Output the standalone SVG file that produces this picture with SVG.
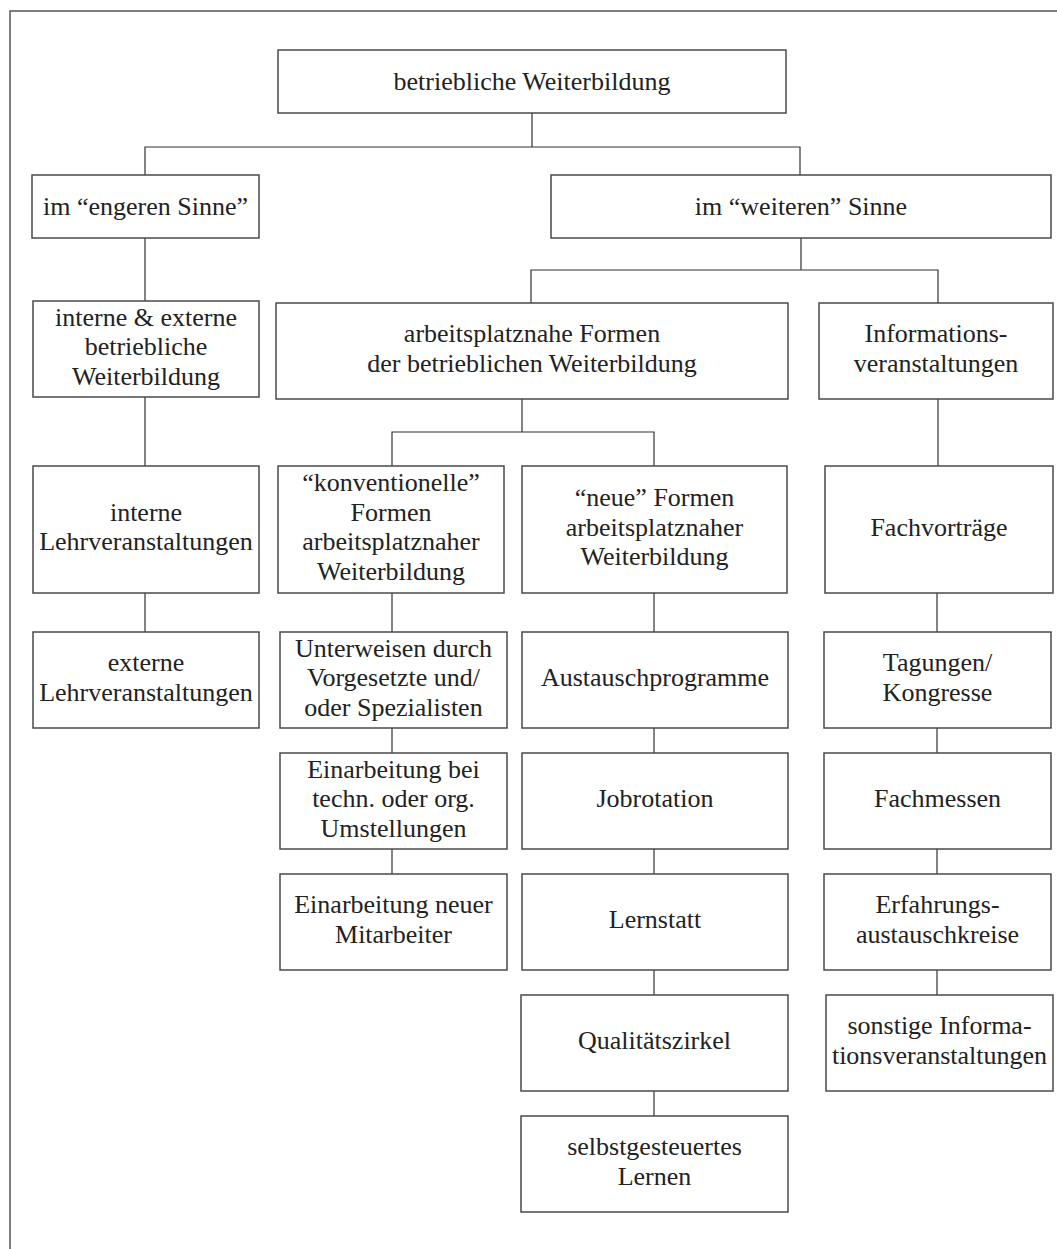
<svg xmlns="http://www.w3.org/2000/svg" width="1057" height="1249" viewBox="0 0 1057 1249">
<style>
.box{fill:#fff;stroke:#4a4a4a;stroke-width:1.5}
.t{font-family:"Liberation Serif","Times New Roman",serif;font-size:26px;fill:#222;text-anchor:middle}
.c{fill:none;stroke:#333;stroke-width:1.2}
.frame{fill:none;stroke:#555;stroke-width:1.5}
</style>
<rect width="1057" height="1249" fill="#fff"/>
<path class="frame" d="M10,1249 V11 H1057"/>
<g id="connectors">
<path class="c" d="M532,113 V147 M145,175 V147 H800 V175"/>
<path class="c" d="M145,238 V301 M145,397 V466 M145,593 V632"/>
<path class="c" d="M801,238 V270 M531,303 V270 H938 V303"/>
<path class="c" d="M522,399 V432 M392,466 V432 H654 V466"/>
<path class="c" d="M938,399 V466 M937,593 V632 M937,728 V753 M937,849 V874 M937,970 V995"/>
<path class="c" d="M392,593 V632 M392,728 V753 M392,849 V874"/>
<path class="c" d="M654,593 V632 M654,728 V753 M654,849 V874 M654,970 V995 M654,1091 V1116"/>
</g>
<g id="n-root"><rect class="box" x="278" y="50" width="508" height="63"/><text class="t" x="532" y="89.5">betriebliche Weiterbildung</text></g>
<g id="n-engeren"><rect class="box" x="32" y="175" width="227" height="63"/><text class="t" x="145.5" y="215">im “engeren Sinne”</text></g>
<g id="n-weiteren"><rect class="box" x="551" y="175" width="500" height="63"/><text class="t" x="801" y="215">im “weiteren” Sinne</text></g>
<g id="n-interne-externe"><rect class="box" x="33" y="301" width="226" height="96"/><text class="t" x="146" y="325.5">interne &amp; externe</text><text class="t" x="146" y="355">betriebliche</text><text class="t" x="146" y="384.5">Weiterbildung</text></g>
<g id="n-arbeitsplatznahe"><rect class="box" x="276" y="303" width="512" height="96"/><text class="t" x="532" y="342">arbeitsplatznahe Formen</text><text class="t" x="532" y="371.5">der betrieblichen Weiterbildung</text></g>
<g id="n-informations"><rect class="box" x="819" y="303" width="234" height="96"/><text class="t" x="936" y="342">Informations-</text><text class="t" x="936" y="371.5">veranstaltungen</text></g>
<g id="n-interne-lehr"><rect class="box" x="33" y="466" width="226" height="127"/><text class="t" x="146" y="520.75">interne</text><text class="t" x="146" y="550.25">Lehrveranstaltungen</text></g>
<g id="n-konventionelle"><rect class="box" x="278" y="466" width="226" height="127"/><text class="t" x="391" y="491.25">“konventionelle”</text><text class="t" x="391" y="520.75">Formen</text><text class="t" x="391" y="550.25">arbeitsplatznaher</text><text class="t" x="391" y="579.75">Weiterbildung</text></g>
<g id="n-neue"><rect class="box" x="522" y="466" width="265" height="127"/><text class="t" x="654.5" y="506">“neue” Formen</text><text class="t" x="654.5" y="535.5">arbeitsplatznaher</text><text class="t" x="654.5" y="565">Weiterbildung</text></g>
<g id="n-fachvortraege"><rect class="box" x="825" y="466" width="228" height="127"/><text class="t" x="939" y="535.5">Fachvorträge</text></g>
<g id="n-externe-lehr"><rect class="box" x="33" y="632" width="226" height="96"/><text class="t" x="146" y="671.25">externe</text><text class="t" x="146" y="700.75">Lehrveranstaltungen</text></g>
<g id="n-unterweisen"><rect class="box" x="280" y="632" width="227" height="96"/><text class="t" x="393.5" y="656.5">Unterweisen durch</text><text class="t" x="393.5" y="686">Vorgesetzte und/</text><text class="t" x="393.5" y="715.5">oder Spezialisten</text></g>
<g id="n-austausch"><rect class="box" x="522" y="632" width="266" height="96"/><text class="t" x="655" y="686">Austauschprogramme</text></g>
<g id="n-tagungen"><rect class="box" x="824" y="632" width="227" height="96"/><text class="t" x="937.5" y="671.25">Tagungen/</text><text class="t" x="937.5" y="700.75">Kongresse</text></g>
<g id="n-einarbeitung-bei"><rect class="box" x="280" y="753" width="227" height="96"/><text class="t" x="393.5" y="777.5">Einarbeitung bei</text><text class="t" x="393.5" y="807">techn. oder org.</text><text class="t" x="393.5" y="836.5">Umstellungen</text></g>
<g id="n-jobrotation"><rect class="box" x="522" y="753" width="266" height="96"/><text class="t" x="655" y="807">Jobrotation</text></g>
<g id="n-fachmessen"><rect class="box" x="824" y="753" width="227" height="96"/><text class="t" x="937.5" y="807">Fachmessen</text></g>
<g id="n-einarbeitung-neuer"><rect class="box" x="280" y="874" width="227" height="96"/><text class="t" x="393.5" y="913.25">Einarbeitung neuer</text><text class="t" x="393.5" y="942.75">Mitarbeiter</text></g>
<g id="n-lernstatt"><rect class="box" x="522" y="874" width="266" height="96"/><text class="t" x="655" y="928">Lernstatt</text></g>
<g id="n-erfahrungs"><rect class="box" x="824" y="874" width="227" height="96"/><text class="t" x="937.5" y="913.25">Erfahrungs-</text><text class="t" x="937.5" y="942.75">austauschkreise</text></g>
<g id="n-qualitaetszirkel"><rect class="box" x="521" y="995" width="267" height="96"/><text class="t" x="654.5" y="1049">Qualitätszirkel</text></g>
<g id="n-sonstige"><rect class="box" x="826" y="995" width="227" height="96"/><text class="t" x="939.5" y="1034.25">sonstige Informa-</text><text class="t" x="939.5" y="1063.75">tionsveranstaltungen</text></g>
<g id="n-selbstgesteuert"><rect class="box" x="521" y="1116" width="267" height="96"/><text class="t" x="654.5" y="1155.25">selbstgesteuertes</text><text class="t" x="654.5" y="1184.75">Lernen</text></g>
</svg>
